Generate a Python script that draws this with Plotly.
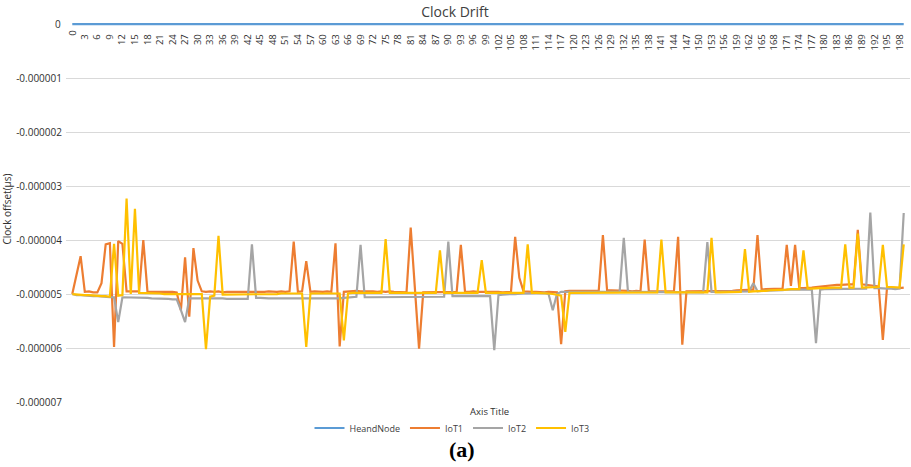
import plotly.graph_objects as go

# x categories
idx = list(range(200))
tick_idx = list(range(0, 199, 3))
tick_text = [str(i) for i in tick_idx]

y_tickvals = [0, -1e-6, -2e-6, -3e-6, -4e-6, -5e-6, -6e-6, -7e-6]
y_ticktext = ["0", "-0.000001", "-0.000002", "-0.000003", "-0.000004", "-0.000005", "-0.000006", "-0.000007"]

# values in micro-units (x 1e-6)
headnode = [0.0] * 200

iot1 = [
    -5.00, -4.65, -4.30, -4.96, -4.95, -4.97, -4.97, -4.80, -4.08, -4.06,
    -5.98, -4.02, -4.07, -4.95, -4.95, -4.96, -4.95, -4.00, -4.96, -4.96,
    -4.96, -4.95, -4.96, -4.95, -4.96, -4.97, -5.30, -4.32, -5.42, -4.15,
    -4.75, -4.95, -4.96, -4.95, -4.96, -4.95, -4.97, -4.96, -4.96, -4.97,
    -4.97, -4.96, -4.97, -4.96, -4.96, -4.97, -4.96, -4.95, -4.96, -4.96,
    -4.95, -4.96, -4.95, -4.03, -4.96, -4.95, -4.39, -4.96, -4.95, -4.96,
    -4.96, -4.95, -4.96, -4.06, -5.97, -4.96, -4.95, -4.94, -4.94, -4.95,
    -4.95, -4.94, -4.95, -4.96, -4.95, -4.96, -4.95, -4.96, -4.96, -4.96,
    -4.97, -3.77, -4.90, -6.01, -4.97, -4.97, -4.96, -4.96, -4.97, -4.97,
    -4.96, -4.96, -4.96, -4.09, -4.96, -4.96, -4.95, -4.96, -4.96, -4.95,
    -4.96, -4.96, -4.96, -4.97, -4.96, -4.96, -3.94, -4.70, -4.95, -4.96,
    -4.96, -4.96, -4.97, -4.97, -4.96, -4.97, -4.97, -5.93, -4.95, -4.94,
    -4.94, -4.94, -4.94, -4.94, -4.93, -4.93, -4.94, -3.91, -4.93, -4.93,
    -4.93, -4.94, -4.93, -4.94, -4.95, -4.94, -4.95, -3.99, -4.95, -4.95,
    -4.96, -4.95, -4.95, -4.95, -4.95, -3.94, -5.94, -4.95, -4.95, -4.95,
    -4.95, -4.95, -4.95, -4.95, -4.95, -4.95, -4.95, -4.94, -4.94, -4.93,
    -4.93, -4.93, -4.92, -4.92, -3.91, -4.92, -4.91, -4.91, -4.91, -4.90,
    -4.90, -4.09, -4.85, -4.09, -4.89, -4.89, -4.89, -4.88, -4.87, -4.86,
    -4.85, -4.84, -4.84, -4.83, -4.83, -4.82, -4.82, -4.82, -3.81, -4.82,
    -4.83, -4.84, -4.85, -4.86, -5.85, -4.88, -4.88, -4.89, -4.89, -4.88,
]

iot2 = [
    -5.00, -5.02, -5.02, -5.03, -5.03, -5.04, -5.04, -5.05, -5.05, -5.06,
    -5.06, -5.52, -5.06, -5.06, -5.06, -5.07, -5.06, -5.07, -5.07, -5.08,
    -5.08, -5.08, -5.09, -5.09, -5.10, -5.10, -5.30, -5.52, -5.08, -5.08,
    -5.08, -5.08, -5.07, -5.07, -5.08, -5.08, -5.08, -5.09, -5.09, -5.09,
    -5.09, -5.09, -5.09, -4.08, -5.07, -5.07, -5.08, -5.08, -5.08, -5.08,
    -5.08, -5.08, -5.08, -5.09, -5.09, -5.09, -5.08, -5.09, -5.09, -5.09,
    -5.09, -5.09, -5.09, -5.08, -5.08, -5.07, -5.06, -5.05, -5.05, -4.09,
    -5.06, -5.06, -5.06, -5.06, -5.06, -5.06, -5.05, -5.06, -5.06, -5.06,
    -5.06, -5.06, -5.06, -5.05, -5.06, -5.06, -5.05, -5.05, -5.05, -5.05,
    -4.03, -5.04, -5.04, -5.04, -5.04, -5.04, -5.04, -5.05, -5.05, -5.05,
    -5.04, -6.04, -5.02, -5.01, -5.00, -5.00, -5.00, -4.99, -4.99, -4.99,
    -4.99, -4.98, -4.98, -4.98, -5.00, -5.30, -5.00, -4.96, -4.96, -4.96,
    -4.96, -4.96, -4.96, -4.96, -4.96, -4.96, -4.96, -4.96, -4.96, -4.96,
    -4.96, -4.96, -3.96, -4.96, -4.96, -4.96, -4.96, -4.96, -4.96, -4.96,
    -4.96, -4.96, -4.96, -4.96, -4.96, -4.97, -4.97, -4.97, -4.97, -4.97,
    -4.97, -4.97, -4.04, -4.96, -4.96, -4.96, -4.96, -4.96, -4.96, -4.96,
    -4.96, -4.95, -4.95, -4.80, -4.95, -4.94, -4.94, -4.93, -4.93, -4.93,
    -4.93, -4.92, -4.92, -4.93, -4.93, -4.93, -4.92, -4.92, -5.91, -4.92,
    -4.91, -4.91, -4.91, -4.91, -4.90, -4.90, -4.90, -4.90, -4.90, -4.90,
    -4.90, -3.49, -4.89, -4.89, -4.90, -4.90, -4.90, -4.91, -4.90, -3.50,
]

iot3 = [
    -5.00, -5.01, -5.01, -5.02, -5.02, -5.03, -5.03, -5.04, -5.04, -5.05,
    -4.07, -5.03, -5.02, -3.23, -5.00, -3.42, -4.98, -4.98, -4.99, -4.99,
    -4.99, -4.99, -5.00, -5.00, -5.00, -5.00, -5.00, -5.00, -5.00, -5.00,
    -5.00, -5.00, -6.02, -5.05, -5.03, -3.92, -5.01, -5.01, -5.00, -5.00,
    -5.00, -5.00, -5.00, -5.00, -5.00, -5.00, -5.00, -5.00, -5.00, -5.00,
    -4.99, -4.99, -4.99, -4.99, -4.99, -4.99, -5.98, -4.99, -4.99, -4.99,
    -4.99, -4.99, -4.99, -4.99, -4.99, -5.86, -4.99, -4.98, -4.98, -4.98,
    -4.98, -4.98, -4.98, -4.98, -4.98, -3.98, -4.98, -4.98, -4.98, -4.98,
    -4.98, -4.98, -4.98, -4.98, -4.98, -4.98, -4.98, -4.98, -4.19, -4.98,
    -4.98, -4.98, -4.98, -4.98, -4.98, -4.98, -4.98, -4.98, -4.37, -4.98,
    -4.98, -4.98, -4.98, -4.98, -4.98, -4.98, -4.98, -4.98, -4.98, -4.08,
    -4.98, -4.98, -4.98, -4.98, -4.99, -5.00, -5.02, -5.03, -5.70, -4.98,
    -4.98, -4.98, -4.98, -4.98, -4.98, -4.98, -4.98, -4.97, -4.97, -4.97,
    -4.97, -4.97, -4.97, -4.97, -4.97, -4.97, -4.97, -4.97, -4.97, -4.97,
    -4.97, -3.99, -4.97, -4.97, -4.97, -4.97, -4.97, -4.97, -4.97, -4.97,
    -4.97, -4.97, -4.97, -3.96, -4.97, -4.97, -4.97, -4.96, -4.96, -4.96,
    -4.96, -4.17, -4.96, -4.95, -4.95, -4.94, -4.94, -4.93, -4.93, -4.93,
    -4.92, -4.92, -4.91, -4.91, -4.91, -4.19, -4.90, -4.90, -4.89, -4.89,
    -4.89, -4.88, -4.88, -4.88, -4.88, -4.08, -4.88, -4.88, -3.88, -4.88,
    -4.88, -4.88, -4.87, -4.87, -4.09, -4.87, -4.87, -4.88, -4.88, -4.08,
]

series = [
    ("HeandNode", headnode, "#5B9BD5"),
    ("IoT1", iot1, "#ED7D31"),
    ("IoT2", iot2, "#A5A5A5"),
    ("IoT3", iot3, "#FFC000"),
]

FONT = "Open Sans"
TXT = "#303030"

fig = go.Figure()
for name, vals, color in series:
    fig.add_trace(go.Scatter(
        x=idx, y=[v * 1e-6 for v in vals], mode="lines", name=name,
        line=dict(color=color, width=2.2),
    ))

# plot area: x from 66 to 910, y from 16 to 402
PL, PR, PT, PB = 66, 910, 16, 402

def px(x):
    return (x - PL) / (PR - PL)

def py(y):
    return (PB - y) / (PB - PT)

fig.update_layout(
    width=911, height=467,
    margin=dict(l=PL, r=911 - PR, t=PT, b=467 - PB),
    paper_bgcolor="white", plot_bgcolor="white",
    font=dict(family=FONT, color="#404040", size=9),
    title=dict(text="Clock Drift", x=455 / 911, xanchor="center", y=1 - 12 / 467, yanchor="middle",
               font=dict(size=14, color="#404040", family=FONT)),
    showlegend=True,
    legend=dict(orientation="h", x=452 / 911, xref="container", xanchor="center",
                y=1 - 428 / 467, yref="container", yanchor="middle",
                font=dict(size=9, color="#404040"), itemwidth=30,
                bgcolor="rgba(0,0,0,0)"),
    xaxis=dict(
        range=[-1.5, 200.5], side="top", anchor="free", position=py(25),
        ticklabelposition="inside",
        tickvals=tick_idx, ticktext=tick_text, tickangle=-90,
        showgrid=False, zeroline=False, showline=False, ticks="",
        tickfont=dict(size=9.5, color=TXT),
    ),
    yaxis=dict(
        range=[-7e-6, 0.15e-6], tickvals=y_tickvals, ticktext=y_ticktext,
        showgrid=True, gridcolor="#D9D9D9", gridwidth=1, zeroline=False,
        showline=False, ticks="", ticklabelstandoff=3,
        tickfont=dict(size=10, color=TXT),
        title=dict(text="Clock offset(µs)", font=dict(size=10, color=TXT), standoff=4),
    ),
    annotations=[
        # first category label and zero value label (hidden by Plotly's corner collision logic)
        dict(text=tick_text[0], xref="x", yref="paper", x=tick_idx[0], y=py(29),
             textangle=-90, showarrow=False, xanchor="center", yanchor="top",
             font=dict(size=9.5, color=TXT)),
        dict(text=y_ticktext[0], xref="paper", yref="y", x=px(63), y=y_tickvals[0],
             showarrow=False, xanchor="right", yanchor="middle",
             font=dict(size=10, color=TXT)),
        dict(text="Axis Title", xref="paper", yref="paper", x=px(489), y=py(411),
             showarrow=False, xanchor="center", yanchor="middle", font=dict(size=9.5, color=TXT)),
        dict(text="<b>(a)</b>", xref="paper", yref="paper", x=px(462), y=py(449),
             showarrow=False, xanchor="center", yanchor="middle",
             font=dict(size=22, color="#000000", family="Liberation Serif")),
    ],
)

fig.write_html("out.html")
